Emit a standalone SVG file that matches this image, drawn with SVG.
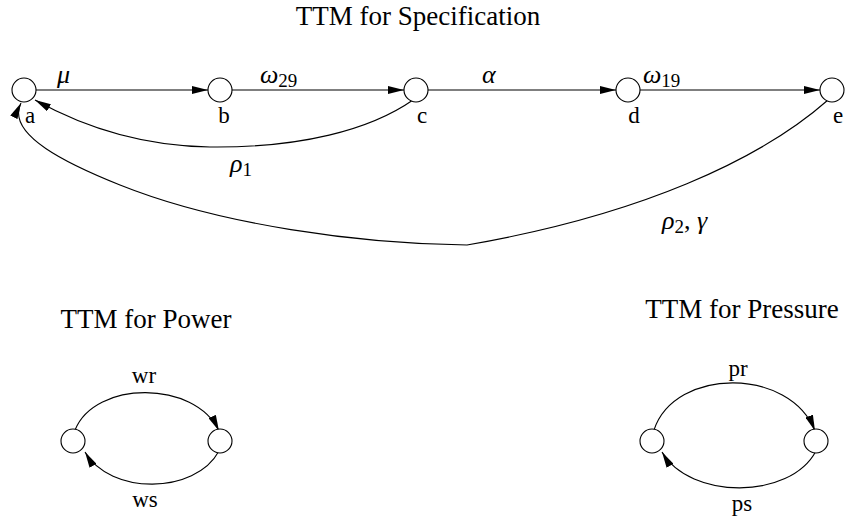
<svg xmlns="http://www.w3.org/2000/svg" width="848" height="527" viewBox="0 0 848 527">
<style>
text{font-family:"Liberation Serif","Times New Roman",serif;fill:#000}
.title{font-size:27px;text-anchor:middle}
.lbl{font-size:23px;text-anchor:middle}
.m{font-size:26px;font-style:italic}
.sub{font-size:19px;font-style:normal}
.node{fill:#fff;stroke:#000;stroke-width:1.1}
.edge{fill:none;stroke:#000;stroke-width:1.1}
</style>
<defs>
<marker id="ah" viewBox="0 0 16 8" refX="16" refY="4" markerWidth="16" markerHeight="8" markerUnits="userSpaceOnUse" orient="auto">
<path d="M0,0 L16,4 L0,8 Z" fill="#000"/>
</marker>
</defs>
<rect width="848" height="527" fill="#fff"/>
<text class="title" x="418" y="25">TTM for Specification</text>
<text class="title" x="146" y="328">TTM for Power</text>
<text class="title" x="742" y="318">TTM for Pressure</text>
<g id="connectors">
<path class="edge" marker-end="url(#ah)" d="M36,90 L208,90"/>
<path class="edge" marker-end="url(#ah)" d="M232,90 L404,90"/>
<path class="edge" marker-end="url(#ah)" d="M428,90 L616,90"/>
<path class="edge" marker-end="url(#ah)" d="M640,90 L820,90"/>
<path class="edge" marker-end="url(#ah)" d="M413,100 C370,130 300,148 210,147 C140,146 80,125 35,100"/>
<path class="edge" marker-end="url(#ah)" d="M828,100 C760,160 640,215 467,245 C360,244 220,225 120,185 C70,165 5,135 21,103"/>
<path class="edge" marker-end="url(#ah)" d="M75,430 C95,380 195,380 219,431"/>
<path class="edge" marker-end="url(#ah)" d="M219,451 C195,495 110,495 85,452"/>
<path class="edge" marker-end="url(#ah)" d="M654,430 C675,367 790,367 815,431"/>
<path class="edge" marker-end="url(#ah)" d="M816,451 C790,500 690,500 662,452"/>
<text class="m" x="57" y="83">μ</text>
<text class="m" x="260" y="83">ω<tspan class="sub" dy="4">29</tspan></text>
<text class="m" x="482" y="83">α</text>
<text class="m" x="643" y="83">ω<tspan class="sub" dy="4">19</tspan></text>
<text class="m" x="230" y="172">ρ<tspan class="sub" dy="4">1</tspan></text>
<text class="m" x="662" y="229">ρ<tspan class="sub" dy="4">2</tspan><tspan dy="-4" font-style="normal">, </tspan>γ</text>
<text class="lbl" x="144" y="383">wr</text>
<text class="lbl" x="145" y="507">ws</text>
<text class="lbl" x="738" y="376">pr</text>
<text class="lbl" x="742" y="511">ps</text>
</g>
<g id="node-a"><circle class="node" cx="24" cy="90" r="12"/><text class="lbl" x="30" y="123">a</text></g>
<g id="node-b"><circle class="node" cx="220" cy="90" r="12"/><text class="lbl" x="224" y="123">b</text></g>
<g id="node-c"><circle class="node" cx="416" cy="90" r="12"/><text class="lbl" x="422" y="123">c</text></g>
<g id="node-d"><circle class="node" cx="628" cy="90" r="12"/><text class="lbl" x="634" y="123">d</text></g>
<g id="node-e"><circle class="node" cx="832" cy="90" r="12"/><text class="lbl" x="838" y="123">e</text></g>
<g id="node-p1"><circle class="node" cx="73" cy="441" r="12"/></g>
<g id="node-p2"><circle class="node" cx="220" cy="441" r="12"/></g>
<g id="node-q1"><circle class="node" cx="652" cy="441" r="12"/></g>
<g id="node-q2"><circle class="node" cx="816" cy="441" r="12"/></g>
</svg>
